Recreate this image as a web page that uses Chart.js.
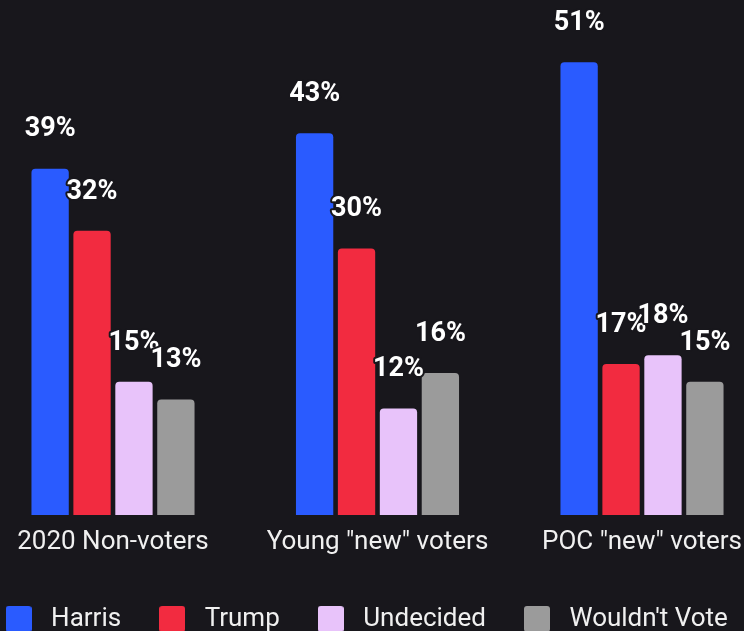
<!DOCTYPE html>
<html>
<head>
<meta charset="utf-8">
<script src="https://cdn.jsdelivr.net/npm/chart.js@4.4.1/dist/chart.umd.min.js"></script>
<style>
  html, body { margin: 0; padding: 0; background: #18171c; }
  #wrap { width: 744px; height: 631px; overflow: hidden; }
</style>
</head>
<body>
<div id="wrap"><canvas id="votes" width="744" height="642"></canvas></div>
<script>
var groups = ['2020 Non-voters', 'Young "new" voters', 'POC "new" voters'];
var candidates = ['Harris', 'Trump', 'Undecided', "Wouldn't Vote"];
var harris = [39, 43, 51];
var trump = [32, 30, 17];
var undecided = [15, 12, 18];
var wouldntVote = [13, 16, 15];

var bg = '#18171c';
var colors = ['#2a5bff', '#f22b40', '#e8c3fa', '#9b9b9b'];

Chart.defaults.font.family = 'Roboto';

// little rounded squares for the legend
function swatch(color) {
    var c = document.createElement('canvas');
    c.width = 26; c.height = 26;
    var g = c.getContext('2d');
    g.fillStyle = color;
    g.beginPath();
    g.roundRect(0, 0, 26, 26, 3);
    g.fill();
    return c;
}
var swatches = colors.map(swatch);

// percent labels above each bar
var valueLabels = {
    id: 'valueLabels',
    afterDatasetsDraw: function(chart) {
        var ctx = chart.ctx;
        ctx.save();
        ctx.font = 'bold 27px Roboto';
        ctx.textAlign = 'center';
        ctx.textBaseline = 'middle';
        ctx.lineJoin = 'round';
        ctx.lineWidth = 4;
        ctx.strokeStyle = bg;
        ctx.fillStyle = '#ffffff';
        chart.data.datasets.forEach(function(ds, i) {
            chart.getDatasetMeta(i).data.forEach(function(bar, j) {
                var txt = ds.data[j] + '%';
                ctx.strokeText(txt, bar.x, bar.y - 39);
                ctx.fillText(txt, bar.x, bar.y - 39);
            });
        });
        ctx.restore();
    }
};

var series = [harris, trump, undecided, wouldntVote];
var datasets = series.map(function(vals, i) {
    return {
        label: candidates[i],
        data: vals,
        backgroundColor: colors[i],
        borderRadius: 4,
        categoryPercentage: 0.634,
        barPercentage: 0.89,
        clip: false
    };
});

new Chart(document.getElementById('votes'), {
    type: 'bar',
    data: { labels: groups, datasets: datasets },
    options: {
        responsive: false,
        animation: false,
        layout: { padding: { left: -50, right: -33, top: 0, bottom: 0 } },
        scales: {
            x: {
                offset: false,
                grid: { display: false, drawTicks: false },
                border: { display: false },
                ticks: { color: '#f0f0f0', font: { size: 26 }, padding: 12, maxRotation: 0, autoSkip: false },
                afterFit: function(scale) {
                    scale.paddingLeft = 113;
                    scale.paddingRight = 102;
                    scale.height = 59.5;
                }
            },
            y: { display: false, min: 0, max: 58 }
        },
        plugins: {
            tooltip: { enabled: false },
            legend: {
                position: 'bottom',
                labels: {
                    color: '#f0f0f0',
                    font: { size: 26 },
                    usePointStyle: true,
                    pointStyleWidth: 39,
                    boxHeight: 26,
                    padding: 31.5,
                    generateLabels: function(chart) {
                        var items = Chart.defaults.plugins.legend.labels.generateLabels(chart);
                        items.forEach(function(item, i) {
                            item.pointStyle = swatches[i];
                            item.fontColor = '#f0f0f0';
                        });
                        return items;
                    }
                }
            }
        }
    },
    plugins: [valueLabels]
});
</script>
</body>
</html>
